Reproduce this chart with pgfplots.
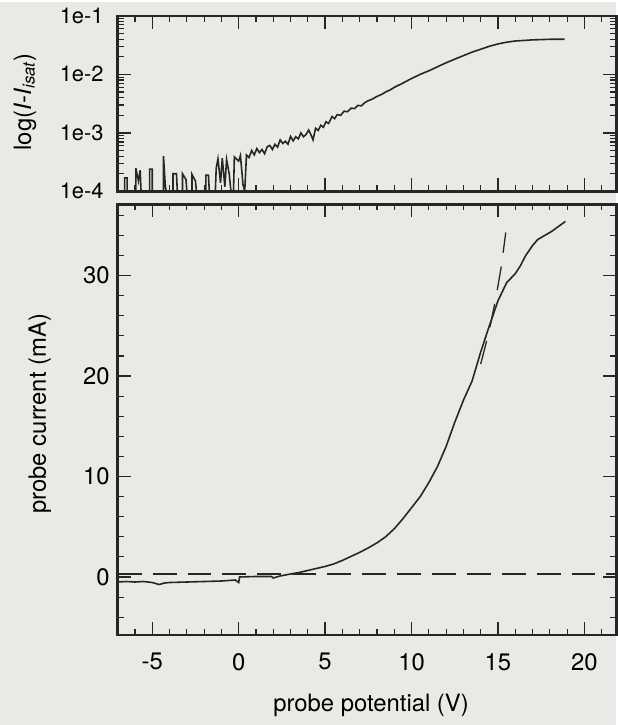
\documentclass[border=0pt]{standalone}
\usepackage{fontspec}
\setmainfont{TeX Gyre Heros}
\usepackage{pgfplots}
\pgfplotsset{compat=1.18}

\definecolor{paper}{RGB}{233,233,230}
\definecolor{ink}{RGB}{38,38,38}

\pgfplotsset{
  probeaxis/.style={
    scale only axis,
    width=500bp,
    xmin=-7, xmax=21.85,
    xtick={-5,0,5,10,15,20},
    minor xtick={-7,-6,...,21},
    xtick pos=both, ytick pos=both,
    xtick align=inside, ytick align=inside,
    tickwidth=0.46cm,
    subtickwidth=0.21cm,
    every tick/.append style={draw=ink, line width=1.3bp},
    every minor tick/.append style={draw=ink, line width=1.1bp},
    axis line style={ink, line width=2.4bp},
    axis on top,
    /pgf/number format/assume math mode=true,
  },
  curve/.style={ink, line width=1.6bp, no marks},
}

\begin{document}
\fontsize{24}{28}\selectfont
\begin{tikzpicture}
\fill[paper] (0,0) rectangle (618bp,-725bp);

% top panel: log of electron current
\begin{axis}[probeaxis,
    at={(118bp,-14bp)}, anchor=north west,
    height=176bp,
    ymode=log, ymin=1e-4, ymax=1e-1,
    ytick={1e-4,1e-3,1e-2,1e-1},
    yticklabels={1e-4,1e-3,1e-2,1e-1},
    minor ytick={2e-4,3e-4,4e-4,5e-4,6e-4,7e-4,8e-4,9e-4,
                 2e-3,3e-3,4e-3,5e-3,6e-3,7e-3,8e-3,9e-3,
                 2e-2,3e-2,4e-2,5e-2,6e-2,7e-2,8e-2,9e-2},
    xticklabels={},
    yticklabel style={font=\fontsize{22}{26}\selectfont, xshift=-6bp},
    ylabel={log(\textit{I}-\textit{I}\textsubscript{\textit{isat}})},
    every axis y label/.style={at={(axis description cs:-0.186,0.51)}, rotate=90, anchor=center},
  ]
\addplot[curve] coordinates {
(-7.0,1.02e-4) (-6.6,1.02e-4) (-6.6,1.7e-4) (-6.45,1.7e-4) (-6.45,1.02e-4)
(-5.95,1.02e-4) (-5.95,2.5e-4) (-5.8,1.5e-4) (-5.7,2.3e-4) (-5.65,1.02e-4)
(-5.15,1.02e-4) (-5.15,2.4e-4) (-5.0,2.4e-4) (-5.0,1.02e-4)
(-4.35,1.02e-4) (-4.35,4.0e-4) (-4.25,1.3e-4) (-4.2,1.02e-4)
(-3.8,1.02e-4) (-3.8,2.0e-4) (-3.6,2.0e-4) (-3.55,1.02e-4)
(-3.25,1.02e-4) (-3.25,2.0e-4) (-3.05,1.6e-4) (-3.0,1.02e-4)
(-2.7,1.02e-4) (-2.7,1.95e-4) (-2.5,1.5e-4) (-2.45,1.02e-4)
(-1.9,1.02e-4) (-1.9,1.9e-4) (-1.75,1.9e-4) (-1.7,1.02e-4)
(-1.35,1.02e-4) (-1.3,2.5e-4) (-1.2,3.6e-4) (-1.05,1.4e-4) (-0.95,3.7e-4)
(-0.8,1.2e-4) (-0.7,3.5e-4) (-0.55,2.0e-4) (-0.45,1.02e-4) (-0.3,1.02e-4)
(-0.25,3.9e-4) (0.0,3.3e-4) (0.1,4.1e-4) (0.25,1.3e-4) (0.35,1.02e-4)
(0.45,4.2e-4) (0.6,3.8e-4) (0.75,5.0e-4) (0.9,4.2e-4) (1.05,5.4e-4)
(1.2,4.6e-4) (1.35,5.2e-4) (1.5,4.4e-4) (1.65,5.8e-4) (1.8,6.1e-4)
(1.95,5.2e-4) (2.1,6.4e-4) (2.25,5.7e-4) (2.4,7.6e-4) (2.55,6.6e-4)
(2.7,7.2e-4) (2.85,6.4e-4) (3.0,8.7e-4) (3.15,7.3e-4) (3.3,8.6e-4)
(3.45,7.9e-4) (3.6,1.0e-3) (3.75,8.6e-4) (3.9,9.4e-4) (4.05,1.12e-3)
(4.2,9.0e-4) (4.3,7.6e-4) (4.45,1.2e-3) (4.6,1.1e-3) (4.75,1.35e-3)
(4.9,1.25e-3) (5.05,1.55e-3) (5.2,1.45e-3) (5.4,1.9e-3) (5.55,1.75e-3)
(5.7,2.05e-3) (5.9,2.0e-3) (6.1,2.35e-3) (6.3,2.3e-3) (6.5,2.65e-3)
(6.7,2.6e-3) (6.9,2.95e-3) (7.1,2.9e-3) (7.3,3.3e-3) (7.5,3.55e-3)
(7.7,3.75e-3) (8.0,4.2e-3) (8.3,4.6e-3) (8.5,5.0e-3) (8.8,5.5e-3)
(9.0,6.0e-3) (9.5,7.1e-3) (10.0,8.5e-3) (10.5,1.0e-2) (11.0,1.15e-2)
(11.5,1.35e-2) (12.0,1.58e-2) (12.5,1.82e-2) (13.0,2.09e-2) (13.5,2.40e-2)
(14.0,2.69e-2) (14.5,3.02e-2) (15.0,3.31e-2) (15.5,3.55e-2) (16.0,3.72e-2)
(16.5,3.80e-2) (17.0,3.89e-2) (17.5,3.93e-2) (18.0,3.98e-2) (18.85,3.98e-2)
};
\end{axis}

% bottom panel: probe current
\begin{axis}[probeaxis,
    at={(118bp,-203bp)}, anchor=north west,
    height=432bp,
    ymin=-5.8, ymax=37.1,
    ytick={0,10,20,30},
    minor ytick={-4,-2,...,36},
    xticklabels={-5,0,5,10,15,20},
    xticklabel style={yshift=-10bp},
    xlabel={probe potential (V)},
    ylabel={probe current (mA)},
    every axis x label/.style={at={(axis description cs:0.508,-0.162)}, anchor=center},
    every axis y label/.style={at={(axis description cs:-0.156,0.514)}, rotate=90, anchor=center},
  ]
\addplot[curve] coordinates {
(-7.0,-0.5) (-6.5,-0.45) (-6.0,-0.5) (-5.5,-0.45) (-5.0,-0.55) (-4.6,-0.75)
(-4.3,-0.6) (-4.0,-0.55) (-3.0,-0.5) (-2.0,-0.45) (-1.0,-0.4) (-0.2,-0.3)
(0.0,-0.55) (0.05,0.0) (1.0,0.05) (1.9,0.05) (2.0,-0.1) (2.4,0.1)
(3.0,0.3) (3.5,0.45) (4.0,0.65) (4.5,0.85) (5.0,1.05) (5.5,1.3)
(6.0,1.65) (6.5,2.05) (7.0,2.45) (7.5,2.9) (8.0,3.4) (8.5,4.0)
(9.0,4.8) (9.5,5.8) (10.0,6.9) (10.5,8.0) (11.0,9.4) (11.5,11.0)
(12.0,13.0) (12.5,15.4) (13.0,17.6) (13.5,19.5) (14.0,22.4) (14.5,25.0)
(15.0,27.5) (15.5,29.3) (16.0,30.2) (16.3,31.0) (16.6,32.0) (17.0,33.0)
(17.3,33.6) (17.7,34.0) (18.1,34.4) (18.5,34.9) (18.9,35.4)
};
\addplot[ink, no marks, dash pattern=on 24bp off 11bp, line width=1.3bp] coordinates {(-7,0.3) (21.85,0.3)};
\addplot[ink, no marks, dash pattern=on 24bp off 14bp, line width=1.3bp] coordinates {
(14.0,21.2) (14.3,23.2) (14.6,25.4) (14.9,28.0) (15.2,31.0) (15.45,34.3)
};
\end{axis}
\path[use as bounding box] (0,0) rectangle (618bp,-725bp);
\end{tikzpicture}
\end{document}
